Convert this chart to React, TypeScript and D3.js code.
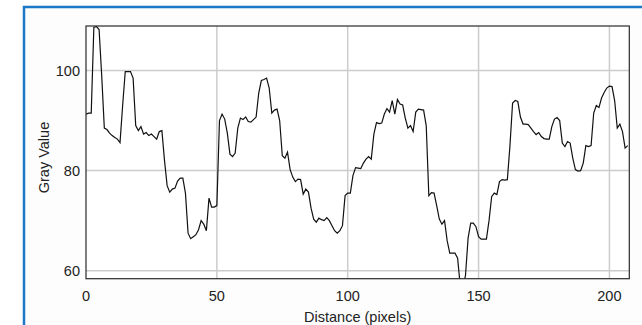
import React from "react";
import * as d3 from "d3";

// Gray value profile sampled along a line, one value per pixel of distance.
const grayValues: number[] = [
  91.3, 91.5, 91.5, 108.6, 108.8, 108.2, 99, 88.5, 88.2, 87.5,
  87, 86.6, 86.3, 85.6, 93, 99.8, 99.8, 99.8, 98.5, 89,
  88, 88.8, 87.3, 87.6, 87, 87.3, 86.8, 86.3, 87.8, 88,
  82, 77, 75.7, 76.3, 76.5, 77.9, 78.5, 78.5, 75.5, 67.5,
  66.4, 66.8, 67.2, 68.2, 70, 69.3, 68, 74.5, 72.7, 72.7,
  73, 90, 91.3, 90.3, 87.5, 83.3, 82.8, 83.5, 88.5, 90.5,
  90.2, 90.7, 89.8, 89.7, 90.2, 90.7, 95.5, 98, 98.2, 98.5,
  96.5, 91.5, 92.1, 92.3, 90, 83, 82.5, 83.7, 80.2, 78.7,
  77.8, 78.3, 78.2, 75.3, 76.3, 75.7, 72.5, 70.3, 69.7, 70.5,
  70.2, 70, 70.6, 70, 69, 68, 67.5, 68, 69, 75,
  75.5, 75.5, 79, 80.6, 80.5, 80.4, 81.5, 82.3, 82.8, 82.3,
  87.3, 89.6, 89.4, 89.5, 91.3, 92.4, 91.7, 94, 91.3, 94.2,
  93.3, 93.1, 90.5, 88.5, 89, 87.8, 91.7, 92.3, 92.2, 92.1,
  89, 75, 75.6, 75.5, 73, 70.3, 69.3, 70, 66, 63.5,
  63.5, 63.5, 62.5, 57, 57, 59, 66.5, 69.5, 69.5, 68.8,
  66.8, 66.3, 66.3, 66.3, 70, 74.8, 75.5, 75.2, 77.8, 78.2,
  78.1, 78.2, 85, 93.5, 94, 93.8, 90.7, 89.3, 89.3, 89.2,
  88.5, 87.8, 87.2, 87.6, 86.8, 86.4, 86.3, 86.3, 88.8, 90.3,
  90.6, 90, 85.5, 84.8, 85.8, 85.5, 82.5, 80.2, 79.9, 80,
  81.5, 85, 84.8, 85, 91.5, 93, 92.6, 94.5, 95.6, 96.5,
  96.9, 96.8, 94, 88.5, 89.3, 87.8, 84.5, 85,
];

const xTicks: number[] = [0, 50, 100, 150, 200];
const yTicks: number[] = [60, 80, 100];
const xGrid: number[] = [50, 100, 150, 200];
const yGrid: number[] = [60, 80, 100];

const W = 642;
const H = 325;
const plot = { left: 86, top: 26, right: 629.3, bottom: 278.7 };

export default function App() {
  const x = d3.scaleLinear().domain([0, 207.6]).range([plot.left, plot.right]);
  const y = d3.scaleLinear().domain([58.4, 108.9]).range([plot.bottom, plot.top]);

  const line = d3
    .line<number>()
    .x((_, i) => x(i))
    .y((v) => y(v));

  const font = "'Liberation Sans', Arial, sans-serif";

  return (
    <svg
      width={W}
      height={H}
      viewBox={`0 0 ${W} ${H}`}
      style={{ position: "absolute", left: 0, top: 0, background: "#ffffff" }}
    >
      <defs>
        <clipPath id="plot-clip">
          <rect
            x={plot.left}
            y={plot.top}
            width={plot.right - plot.left}
            height={plot.bottom - plot.top}
          />
        </clipPath>
      </defs>

      {/* outer window border */}
      <rect x={24} y={7} width={W} height={H} fill="#fdfdfd" stroke="#1e78c8" strokeWidth={2.5} />

      {/* plot background */}
      <rect
        x={plot.left}
        y={plot.top}
        width={plot.right - plot.left}
        height={plot.bottom - plot.top}
        fill="#ffffff"
      />

      {/* grid */}
      {xGrid.map((t) => (
        <line
          key={`gx${t}`}
          x1={x(t)}
          x2={x(t)}
          y1={plot.top}
          y2={plot.bottom}
          stroke="#cccccc"
          strokeWidth={1.5}
        />
      ))}
      {yGrid.map((t) => (
        <line
          key={`gy${t}`}
          x1={plot.left}
          x2={plot.right}
          y1={y(t)}
          y2={y(t)}
          stroke="#cccccc"
          strokeWidth={1.5}
        />
      ))}

      {/* profile */}
      <path
        d={line(grayValues) ?? ""}
        fill="none"
        stroke="#111111"
        strokeWidth={1.2}
        strokeLinejoin="miter"
        clipPath="url(#plot-clip)"
      />

      {/* frame */}
      <rect
        x={plot.left}
        y={plot.top}
        width={plot.right - plot.left}
        height={plot.bottom - plot.top}
        fill="none"
        stroke="#2a2a2a"
        strokeWidth={1.2}
      />

      {/* x tick labels */}
      {xTicks.map((t) => (
        <text
          key={`xt${t}`}
          x={x(t)}
          y={300.5}
          textAnchor="middle"
          fontFamily={font}
          fontSize={14.5}
          fill="#222"
        >
          {t}
        </text>
      ))}

      {/* y tick labels */}
      {yTicks.map((t) => (
        <text
          key={`yt${t}`}
          x={80}
          y={y(t) + 5.3}
          textAnchor="end"
          fontFamily={font}
          fontSize={14.5}
          fill="#222"
        >
          {t}
        </text>
      ))}

      {/* axis titles */}
      <text
        x={(plot.left + plot.right) / 2}
        y={322}
        textAnchor="middle"
        fontFamily={font}
        fontSize={14.5}
        fill="#222"
      >
        Distance (pixels)
      </text>
      <text
        transform="translate(49,157.5) rotate(-90)"
        textAnchor="middle"
        fontFamily={font}
        fontSize={14.5}
        fill="#222"
      >
        Gray Value
      </text>
    </svg>
  );
}
